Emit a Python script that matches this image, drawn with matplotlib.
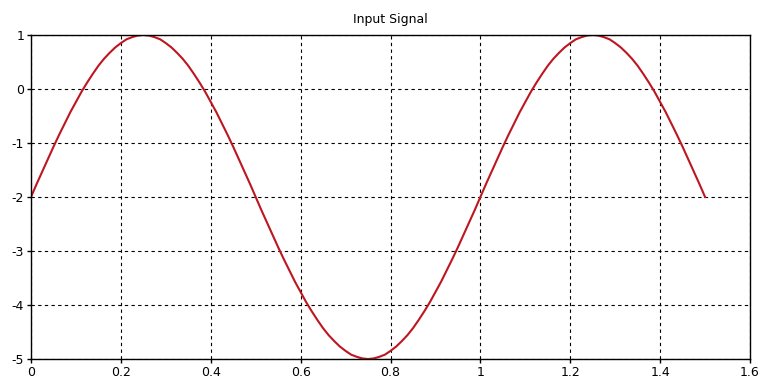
import matplotlib
matplotlib.use("Agg")
import matplotlib.pyplot as plt

x_step = 0.0125
x_vals = [round(i * x_step, 4) for i in range(121)]
y_vals = [
    -2.00, -1.76, -1.53, -1.30, -1.07, -0.85, -0.64, -0.43, -0.24, -0.05,
    0.12, 0.28, 0.43, 0.56, 0.67, 0.77, 0.85, 0.92, 0.96, 0.99,
    1.00, 0.99, 0.96, 0.92, 0.85, 0.77, 0.67, 0.56, 0.43, 0.28,
    0.12, -0.05, -0.24, -0.43, -0.64, -0.85, -1.07, -1.30, -1.53, -1.76,
    -2.00, -2.24, -2.47, -2.70, -2.93, -3.15, -3.36, -3.57, -3.76, -3.95,
    -4.12, -4.28, -4.43, -4.56, -4.67, -4.77, -4.85, -4.92, -4.96, -4.99,
    -5.00, -4.99, -4.96, -4.92, -4.85, -4.77, -4.67, -4.56, -4.43, -4.28,
    -4.12, -3.95, -3.76, -3.57, -3.36, -3.15, -2.93, -2.70, -2.47, -2.24,
    -2.00, -1.76, -1.53, -1.30, -1.07, -0.85, -0.64, -0.43, -0.24, -0.05,
    0.12, 0.28, 0.43, 0.56, 0.67, 0.77, 0.85, 0.92, 0.96, 0.99,
    1.00, 0.99, 0.96, 0.92, 0.85, 0.77, 0.67, 0.56, 0.43, 0.28,
    0.12, -0.05, -0.24, -0.43, -0.64, -0.85, -1.07, -1.30, -1.53, -1.76,
    -2.00,
]
x_ticks = [0, 0.2, 0.4, 0.6, 0.8, 1, 1.2, 1.4, 1.6]
x_labels = ["0", "0.2", "0.4", "0.6", "0.8", "1", "1.2", "1.4", "1.6"]
y_ticks = [1, 0, -1, -2, -3, -4, -5]
y_labels = ["1", "0", "-1", "-2", "-3", "-4", "-5"]

fig = plt.figure(figsize=(7.64, 3.92), dpi=100)
ax = fig.add_axes([31/764, 1-359/392, (750-31)/764, (359-35)/392])
ax.plot(x_vals, y_vals, color="#be1620", lw=1.5)
ax.set_xlim(0, 1.6)
ax.set_ylim(-5, 1)
ax.set_xticks(x_ticks)
ax.set_xticklabels(x_labels)
ax.set_yticks(y_ticks)
ax.set_yticklabels(y_labels)
ax.grid(True, color="black", linestyle=(0, (3, 3)), linewidth=0.8)
for s in ax.spines.values():
    s.set_linewidth(1.0)
    s.set_color("black")
ax.tick_params(direction="out", length=3, width=1, labelsize=9, pad=2)
ax.set_title("Input Signal", fontsize=9, pad=9)
fig.savefig("out.png", dpi=100)
